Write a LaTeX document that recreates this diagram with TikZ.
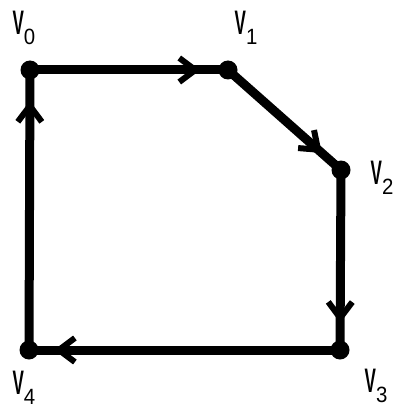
\documentclass[tikz,border=0pt]{standalone}
\usepackage{fontspec}
\setmainfont{Liberation Sans}
\usetikzlibrary{decorations.markings, arrows.meta}
\tikzset{
  vtx/.style={circle, fill, inner sep=0pt, minimum size=19pt},
  vlabel/.style={inner sep=0pt, font=\fontsize{34}{34}\selectfont},
  edge/.style={line width=9pt, postaction={decorate}, decoration={markings,
      mark=at position #1 with {\arrow{Straight Barb[length=16pt, width=24pt, line width=6pt]}}}},
}
\newcommand{\vname}[1]{\scalebox{0.5}[1]{\bfseries V}\raisebox{-10pt}{\scalebox{0.6}[0.65]{#1}}}

\begin{document}
\begin{tikzpicture}[x=1pt, y=-1pt]
  \useasboundingbox (0,0) rectangle (399,417);
  % vertices
  \node[vtx] (v0) at (30,70) {};
  \node[vtx] (v1) at (228,70) {};
  \node[vtx] (v2) at (341,170) {};
  \node[vtx] (v3) at (340,350) {};
  \node[vtx] (v4) at (29,350) {};
  % labels
  \node[vlabel] (l0) at (24,28) {\vname{0}};
  \node[vlabel] (l1) at (246,28) {\vname{1}};
  \node[vlabel] (l2) at (382,178) {\vname{2}};
  \node[vlabel] (l3) at (376,386) {\vname{3}};
  \node[vlabel] (l4) at (24,388) {\vname{4}};
  % directed cycle
  \draw[edge=0.86] (v0.center) -- (v1.center);
  \draw[edge=0.83] (v1.center) -- (v2.center);
  \draw[edge=0.85] (v2.center) -- (v3.center);
  \draw[edge=0.92] (v3.center) -- (v4.center);
  \draw[edge=0.89] (v4.center) -- (v0.center);
\end{tikzpicture}
\end{document}
